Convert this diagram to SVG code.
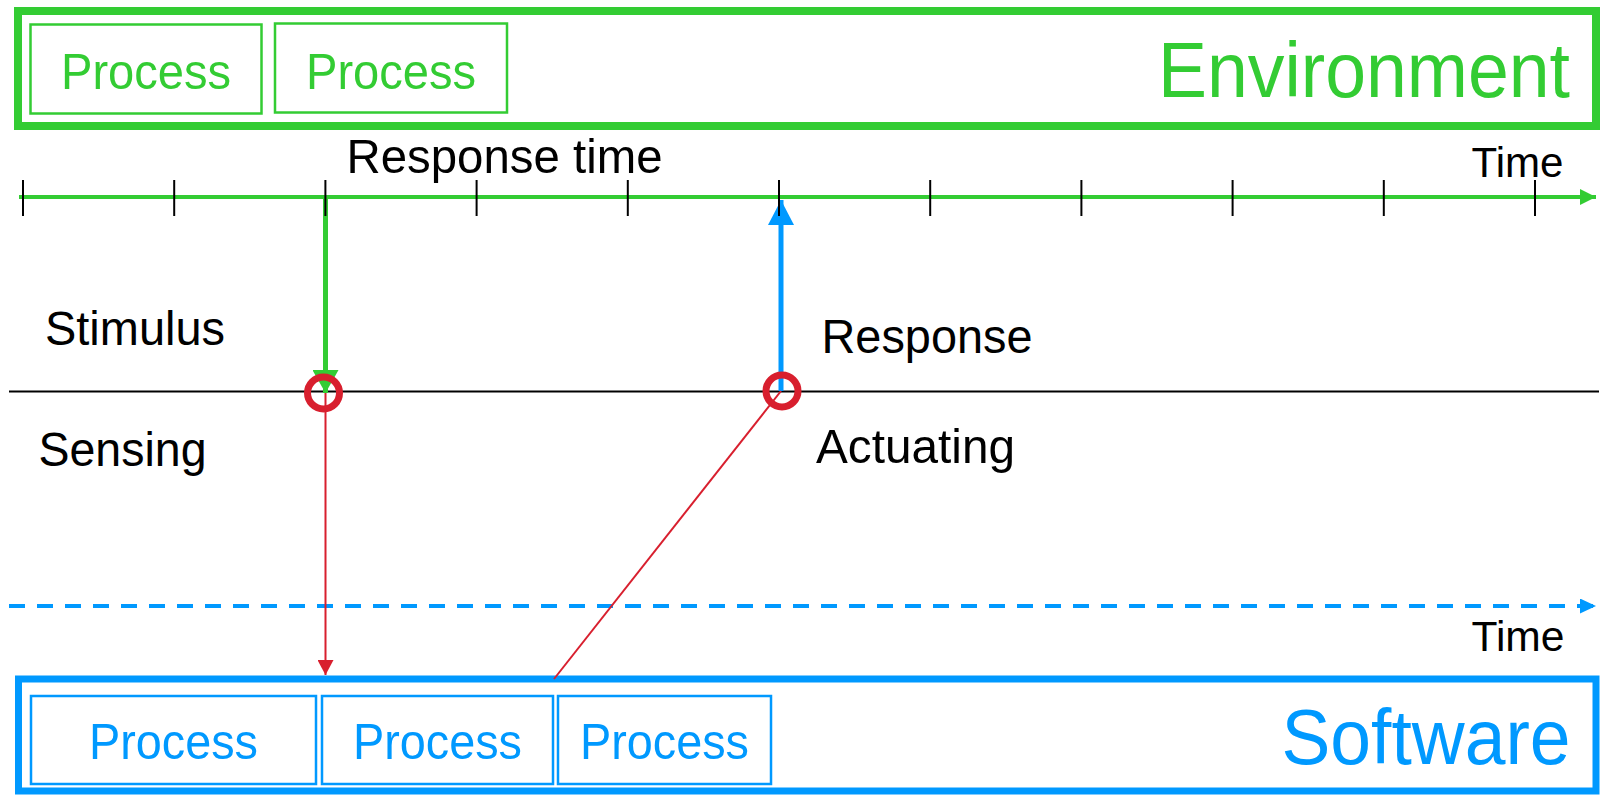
<svg xmlns="http://www.w3.org/2000/svg" width="1601" height="795" viewBox="0 0 1601 795">
  <style>
    text { font-family: "Liberation Sans", Arial, sans-serif; }
    .lbl { font-size: 49px; fill: #000; }
    .time { font-size: 42px; fill: #000; }
    .env-frame { fill: #fff; stroke: #33CC33; stroke-width: 8; }
    .env-proc { fill: #fff; stroke: #33CC33; stroke-width: 2.5; }
    .env-text { fill: #33CC33; }
    .sw-frame { fill: #fff; stroke: #0099FF; stroke-width: 7; }
    .sw-proc { fill: #fff; stroke: #0099FF; stroke-width: 2.5; }
    .sw-text { fill: #0099FF; }
    .ptext { font-size: 49.5px; text-anchor: middle; }
    .big { font-size: 77px; text-anchor: end; }
    .tick { stroke: #000; stroke-width: 2; }
    .probe { fill: none; stroke: #D81F2E; stroke-width: 7; }
  </style>
  <defs>
    <marker id="head-green-axis" markerUnits="userSpaceOnUse" markerWidth="16" markerHeight="16" refX="16" refY="8" orient="auto">
      <path d="M0,0 L16,8 L0,16 Z" fill="#33CC33"/>
    </marker>
    <marker id="head-blue-axis" markerUnits="userSpaceOnUse" markerWidth="16" markerHeight="16" refX="16" refY="7.5" orient="auto">
      <path d="M0,0 L16,7.5 L0,15 Z" fill="#0099FF"/>
    </marker>
    <marker id="head-green" markerUnits="userSpaceOnUse" markerWidth="23" markerHeight="26" refX="23" refY="13" orient="auto">
      <path d="M0,0 L23,13 L0,26 Z" fill="#33CC33"/>
    </marker>
    <marker id="head-blue" markerUnits="userSpaceOnUse" markerWidth="25" markerHeight="26" refX="25" refY="13" orient="auto">
      <path d="M0,0 L25,13 L0,26 Z" fill="#0099FF"/>
    </marker>
    <marker id="head-red" markerUnits="userSpaceOnUse" markerWidth="15" markerHeight="16" refX="15" refY="8" orient="auto">
      <path d="M0,0 L15,8 L0,16 Z" fill="#D81F2E"/>
    </marker>
  </defs>

  <rect width="1601" height="795" fill="#fff"/>

  <!-- Environment lane -->
  <g id="environment">
    <rect class="env-frame" x="18" y="11" width="1578" height="115"/>
    <text class="env-text big" x="1570" y="96.5" textLength="412" lengthAdjust="spacingAndGlyphs">Environment</text>
  </g>
  <g id="env-process-1">
    <rect class="env-proc" x="30.5" y="24.5" width="231" height="89"/>
    <text class="env-text ptext" x="146" y="88.5" textLength="170" lengthAdjust="spacingAndGlyphs">Process</text>
  </g>
  <g id="env-process-2">
    <rect class="env-proc" x="275" y="23.5" width="232" height="89"/>
    <text class="env-text ptext" x="391" y="88.5" textLength="170" lengthAdjust="spacingAndGlyphs">Process</text>
  </g>

  <!-- Software lane -->
  <g id="software">
    <rect class="sw-frame" x="18.5" y="679" width="1577.5" height="112"/>
    <text class="sw-text big" x="1570.5" y="764" textLength="289" lengthAdjust="spacingAndGlyphs">Software</text>
  </g>
  <g id="sw-process-1">
    <rect class="sw-proc" x="31" y="696" width="285" height="88"/>
    <text class="sw-text ptext" x="173.5" y="758.5" textLength="169" lengthAdjust="spacingAndGlyphs">Process</text>
  </g>
  <g id="sw-process-2">
    <rect class="sw-proc" x="322" y="696" width="231" height="88"/>
    <text class="sw-text ptext" x="437.5" y="758.5" textLength="169" lengthAdjust="spacingAndGlyphs">Process</text>
  </g>
  <g id="sw-process-3">
    <rect class="sw-proc" x="558" y="696" width="213" height="88"/>
    <text class="sw-text ptext" x="664.5" y="758.5" textLength="169" lengthAdjust="spacingAndGlyphs">Process</text>
  </g>

  <!-- Environment time axis -->
  <g id="env-time-axis">
    <line x1="19" y1="197" x2="1596" y2="197" stroke="#33CC33" stroke-width="4" marker-end="url(#head-green-axis)"/>
    <text class="time" x="1471.5" y="176.5" textLength="92" lengthAdjust="spacingAndGlyphs">Time</text>
    <text class="lbl" x="346.5" y="172.5" textLength="316" lengthAdjust="spacingAndGlyphs">Response time</text>
  </g>

  <!-- Software time axis -->
  <g id="sw-time-axis">
    <line x1="9" y1="606" x2="1596" y2="606" stroke="#0099FF" stroke-width="4" stroke-dasharray="16 12" marker-end="url(#head-blue-axis)"/>
    <text class="time" x="1471.5" y="650.5" textLength="93" lengthAdjust="spacingAndGlyphs">Time</text>
  </g>

  <!-- Boundary between environment and software -->
  <g id="boundary">
    <line x1="9" y1="391.5" x2="1599" y2="391.5" stroke="#000" stroke-width="2"/>
    <text class="lbl" x="45" y="345" textLength="180" lengthAdjust="spacingAndGlyphs">Stimulus</text>
    <text class="lbl" x="38.5" y="466" textLength="168" lengthAdjust="spacingAndGlyphs">Sensing</text>
    <text class="lbl" x="821.5" y="353" textLength="211" lengthAdjust="spacingAndGlyphs">Response</text>
    <text class="lbl" x="816" y="463" textLength="199" lengthAdjust="spacingAndGlyphs">Actuating</text>
  </g>

  <!-- Connectors -->
  <g id="connectors">
    <line x1="325.5" y1="197" x2="325.5" y2="393" stroke="#33CC33" stroke-width="5" marker-end="url(#head-green)"/>
    <line x1="781" y1="391" x2="781" y2="200" stroke="#0099FF" stroke-width="5" marker-end="url(#head-blue)"/>
    <line x1="325.5" y1="393" x2="325.5" y2="675" stroke="#D81F2E" stroke-width="2" marker-end="url(#head-red)"/>
    <line x1="554" y1="679" x2="781" y2="391" stroke="#D81F2E" stroke-width="2"/>
  </g>

  <!-- Axis ticks -->
  <g id="ticks" class="tick">
    <line x1="23" y1="180" x2="23" y2="216"/>
    <line x1="174.2" y1="180" x2="174.2" y2="216"/>
    <line x1="325.4" y1="180" x2="325.4" y2="216"/>
    <line x1="476.6" y1="180" x2="476.6" y2="216"/>
    <line x1="627.8" y1="180" x2="627.8" y2="216"/>
    <line x1="779" y1="180" x2="779" y2="216"/>
    <line x1="930.2" y1="180" x2="930.2" y2="216"/>
    <line x1="1081.4" y1="180" x2="1081.4" y2="216"/>
    <line x1="1232.6" y1="180" x2="1232.6" y2="216"/>
    <line x1="1383.8" y1="180" x2="1383.8" y2="216"/>
    <line x1="1535" y1="180" x2="1535" y2="216"/>
  </g>

  <!-- Crossing points on the boundary -->
  <g id="sense-point">
    <circle class="probe" cx="323.5" cy="393" r="16"/>
  </g>
  <g id="actuate-point">
    <circle class="probe" cx="782" cy="391" r="16"/>
  </g>
</svg>
